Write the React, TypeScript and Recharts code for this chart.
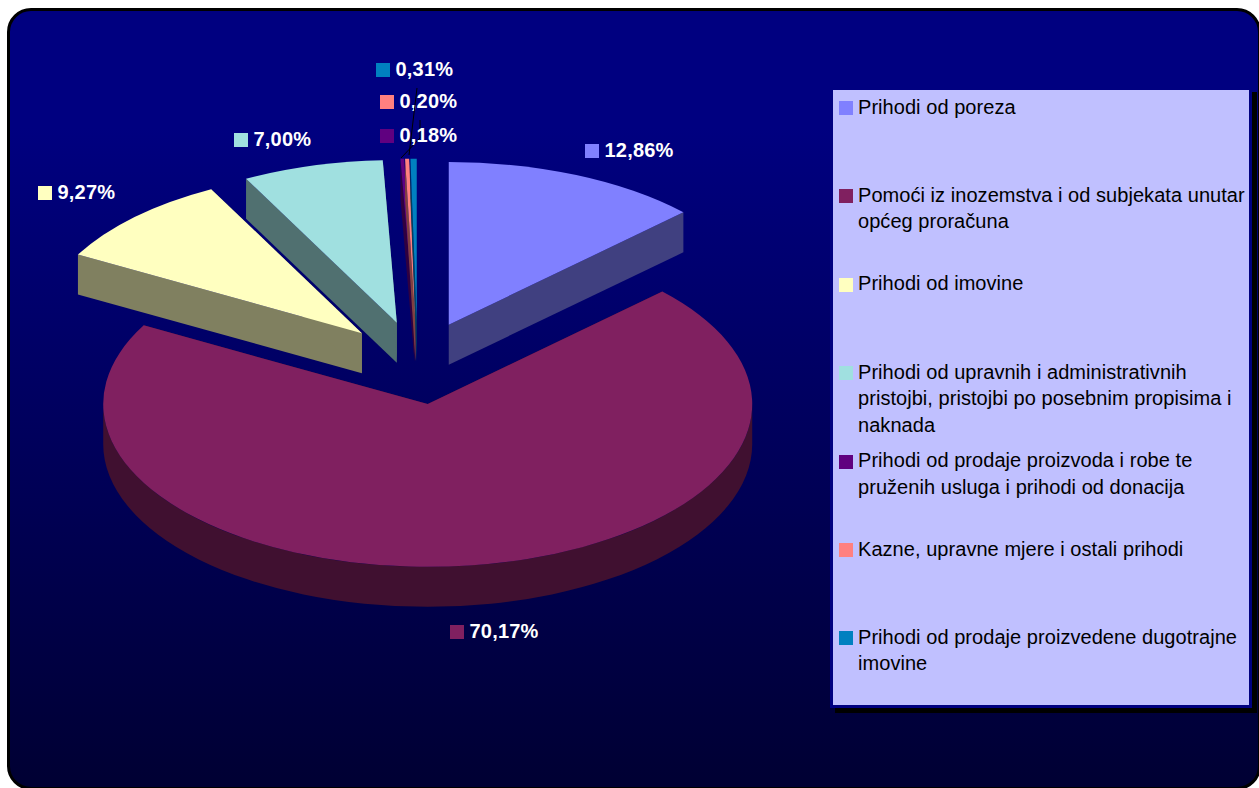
import React from "react";
import { PieChart, Pie, Legend } from "recharts";

const names = [
  "Prihodi od poreza",
  "Pomoći iz inozemstva i od subjekata unutar\nopćeg proračuna",
  "Prihodi od imovine",
  "Prihodi od upravnih i administrativnih\npristojbi, pristojbi po posebnim propisima i\nnaknada",
  "Prihodi od prodaje proizvoda i robe te\npruženih usluga i prihodi od donacija",
  "Kazne, upravne mjere i ostali prihodi",
  "Prihodi od prodaje proizvedene dugotrajne\nimovine",
];
const shares = [12.86, 70.17, 9.27, 7.0, 0.18, 0.2, 0.31];
const colors = ["#8080ff", "#802060", "#ffffc0", "#a0e0e0", "#600080", "#ff8080", "#0080c0"];
const wallColors = ["#404080", "#401030", "#808060", "#507070", "#300040", "#804040", "#004060"];

// swatch position of each percentage label
const labelSpots = [
  [585, 144],
  [450, 625],
  [38, 186],
  [234, 133],
  [380, 129],
  [380, 95],
  [376, 63],
];
// leader lines of the two labels that have one
const leaders: Record<number, string> = {
  4: "420,120 420,138 401,158",
  6: "417,88 409,155",
};

const RATIO = 0.5015;
const DEPTH = 40;
const EXPLODE_X = 0.245;
const EXPLODE_Y = 0.255;
const rows = names.map((name, i) => ({ name, value: shares[i], fill: colors[i] }));
const rad = (d: number) => (d * Math.PI) / 180;

function Slice3D(props: any) {
  const { cx, cy, outerRadius: R, startAngle, endAngle, index } = props;
  const mid = rad((startAngle + endAngle) / 2);
  const ox = cx + EXPLODE_X * R * Math.cos(mid);
  const oy = cy - EXPLODE_Y * R * RATIO * Math.sin(mid);
  const pt = (deg: number) => ({
    x: ox + R * Math.cos(rad(deg)),
    y: oy - R * RATIO * Math.sin(rad(deg)),
  });
  const ry = R * RATIO;
  const s = pt(startAngle);
  const e = pt(endAngle);
  const large = Math.abs(startAngle - endAngle) > 180 ? 1 : 0;
  const hi = Math.max(startAngle, endAngle);
  const lo = Math.min(startAngle, endAngle);
  const top = `M${ox},${oy}L${s.x},${s.y}A${R},${ry} 0 ${large} 1 ${e.x},${e.y}Z`;
  const wall = wallColors[index];
  const side = (p: { x: number; y: number }) =>
    `M${ox},${oy}L${p.x},${p.y}L${p.x},${p.y + DEPTH}L${ox},${oy + DEPTH}Z`;
  // the outer wall shows only on the front half of the ellipse
  const fa = Math.min(hi, 0);
  const fb = Math.max(lo, -180);
  let arc = "";
  if (fa > fb) {
    const p = pt(fa);
    const q = pt(fb);
    arc = `M${p.x},${p.y}A${R},${ry} 0 0 1 ${q.x},${q.y}L${q.x},${q.y + DEPTH}A${R},${ry} 0 0 0 ${p.x},${p.y + DEPTH}Z`;
  }
  return (
    <g>
      <path d={side(s)} fill={wall} />
      <path d={side(e)} fill={wall} />
      {arc && <path d={arc} fill={wall} />}
      <path d={top} fill={colors[index]} />
    </g>
  );
}

function PercentLabel(props: any) {
  const { index, value } = props;
  const [x, y] = labelSpots[index];
  const text = `${Number(value).toFixed(2).replace(".", ",")}%`;
  return (
    <g>
      {leaders[index] && <polyline points={leaders[index]} fill="none" stroke="#000000" strokeWidth={1} />}
      <rect x={x} y={y} width={14} height={14} fill={colors[index]} />
      <text
        x={x + 19.5}
        y={y + 13}
        fill="#ffffff"
        fontFamily="'Liberation Sans', Arial, sans-serif"
        fontWeight={700}
        fontSize={20}
        letterSpacing={0.2}
      >
        {text}
      </text>
    </g>
  );
}

function LegendBox({ payload }: any) {
  const items: any[] = payload && payload.length ? payload : rows.map((r) => ({ value: r.name, color: r.fill }));
  return (
    <div
      style={{
        position: "relative",
        width: 416,
        height: 615,
        boxSizing: "content-box",
        background: "#c0c0ff",
        border: "3px solid #000080",
        boxShadow: "5px 5px 0 #000000",
        fontFamily: "'Liberation Sans', Arial, sans-serif",
        fontSize: 20,
        lineHeight: "26.5px",
        letterSpacing: 0.05,
        color: "#000000",
      }}
    >
      {items.map((it, i) => (
        <div key={i} style={{ position: "absolute", left: 0, top: 3.5 + i * 88.4, height: 80 }}>
          <span
            style={{
              position: "absolute",
              left: 6,
              top: 7.5,
              width: 14,
              height: 14,
              background: colors[i],
            }}
          />
          <span style={{ position: "absolute", left: 25, top: 0, whiteSpace: "pre", textAlign: "left" }}>
            {it.value}
          </span>
        </div>
      ))}
    </div>
  );
}

export default function App() {
  return (
    <div
      style={{
        position: "fixed",
        left: 0,
        top: 0,
        width: 1259,
        height: 788,
        overflow: "hidden",
        background: "#ffffff",
      }}
    >
      <div
        style={{
          position: "absolute",
          left: 7,
          top: 8,
          width: 1254,
          height: 782,
          boxSizing: "border-box",
          borderRadius: 24,
          border: "3px solid #000000",
          background: "linear-gradient(to bottom, #000080 0%, #000080 15%, #000033 100%)",
        }}
      />
      <div style={{ position: "absolute", left: 0, top: 0 }}>
        <PieChart width={1259} height={788} margin={{ top: 0, right: 0, bottom: 0, left: 0 }}>
          <Pie
            data={rows}
            dataKey="value"
            nameKey="name"
            cx={417.5}
            cy={362.9}
            outerRadius={324.5}
            startAngle={90}
            endAngle={-270}
            isAnimationActive={false}
            shape={Slice3D}
            label={PercentLabel}
            labelLine={false}
            stroke="none"
          />
          <Legend
            content={LegendBox}
            itemSorter={null}
            wrapperStyle={{ position: "absolute", left: 830, top: 87, width: 422, height: 621 }}
          />
        </PieChart>
      </div>
    </div>
  );
}
